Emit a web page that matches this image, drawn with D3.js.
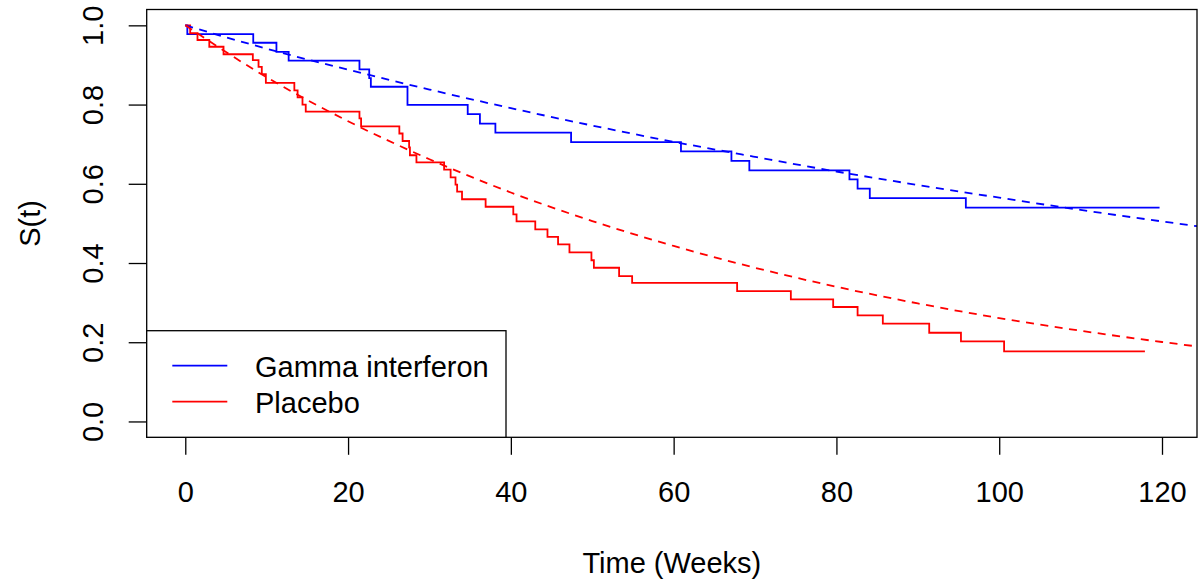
<!DOCTYPE html>
<html><head><meta charset="utf-8">
<script src="https://cdn.jsdelivr.net/npm/d3@7"></script>
<style>body{margin:0;background:#fff}svg{display:block}text{font-family:"Liberation Sans",Arial,sans-serif;fill:#000}</style>
</head><body>
<svg id="c" width="1202" height="582"></svg>
<script>
// Kaplan-Meier step data (time, survival after step)
const gammaTimes = [0, 0.25, 8.35, 11.2, 12.7, 21.4, 22.6, 22.8, 27.3, 34.7, 36.2, 38.1, 47.4, 60.9, 67.1, 69.3, 81.6, 82.6, 84.1, 95.9, 119.7];
const gammaSurv  = [1, 0.978, 0.956, 0.933, 0.911, 0.889, 0.867, 0.845, 0.799, 0.776, 0.752, 0.729, 0.705, 0.682, 0.658, 0.634, 0.611, 0.588, 0.564, 0.540, 0.540];
const placeboTimes = [0, 0.6, 1.5, 2.95, 4.7, 8.3, 9.0, 9.4, 9.9, 13.4, 13.8, 14.4, 14.8, 21.4, 21.6, 26.3, 26.7, 27.5, 27.6, 28.4, 31.8, 32.6, 33.2, 33.4, 34.0, 36.9, 40.3, 40.7, 43.0, 44.5, 45.8, 47.2, 49.9, 50.2, 53.3, 54.9, 67.8, 74.4, 79.6, 82.6, 85.7, 91.4, 95.3, 100.6, 117.9];
const placeboSurv  = [1, 0.980, 0.963, 0.946, 0.927, 0.912, 0.895, 0.877, 0.855, 0.836, 0.818, 0.800, 0.782, 0.765, 0.745, 0.727, 0.708, 0.692, 0.672, 0.654, 0.636, 0.616, 0.598, 0.580, 0.561, 0.542, 0.523, 0.505, 0.485, 0.466, 0.447, 0.427, 0.407, 0.388, 0.367, 0.350, 0.329, 0.308, 0.289, 0.268, 0.247, 0.224, 0.202, 0.177, 0.177];
// Fitted (parametric) curves
const fitTimes = [0, 10, 20, 30, 40, 50, 60, 70, 80, 90, 100, 110, 120, 124.3];
const gammaFit   = [1, 0.941, 0.888, 0.838, 0.791, 0.747, 0.706, 0.668, 0.631, 0.597, 0.565, 0.534, 0.505, 0.493];
const placeboFit = [1, 0.869, 0.758, 0.662, 0.578, 0.506, 0.443, 0.388, 0.340, 0.298, 0.261, 0.229, 0.2006, 0.1895];
const xTicks = [0, 20, 40, 60, 80, 100, 120];
const yTicks = [0, 0.2, 0.4, 0.6, 0.8, 1.0];
const legendLabels = ["Gamma interferon", "Placebo"];
const colors = ["#0000FF", "#FF0000"];

const svg = d3.select("#c");
const L = 146.7, R = 1197, T = 9.5, B = 437.3;
const x = d3.scaleLinear().domain([-4.74, 124.3]).range([L, R]);
const y = d3.scaleLinear().domain([-0.04, 1.04]).range([B, T]);
const FS = 29;

function pts(ts, ss){ return ts.map((t,i)=>[t, ss[i]]); }
const stepLine = d3.line().x(d=>x(d[0])).y(d=>y(d[1])).curve(d3.curveStepAfter);
const smoothLine = d3.line().x(d=>x(d[0])).y(d=>y(d[1])).curve(d3.curveMonotoneX);

const g = svg.append("g");
g.append("path").attr("d", stepLine(pts(gammaTimes, gammaSurv))).attr("fill","none").attr("stroke",colors[0]).attr("stroke-width",1.8);
g.append("path").attr("d", stepLine(pts(placeboTimes, placeboSurv))).attr("fill","none").attr("stroke",colors[1]).attr("stroke-width",1.8);
g.append("path").attr("d", smoothLine(pts(fitTimes, gammaFit))).attr("fill","none").attr("stroke",colors[0]).attr("stroke-width",1.8).attr("stroke-dasharray","8,6.5");
g.append("path").attr("d", smoothLine(pts(fitTimes, placeboFit))).attr("fill","none").attr("stroke",colors[1]).attr("stroke-width",1.8).attr("stroke-dasharray","8,6.5");

// clip overflow at right edge
svg.append("rect").attr("x",R).attr("y",0).attr("width",10).attr("height",582).attr("fill","#fff");

// X axis
const xa = svg.append("g").attr("transform",`translate(0,${B})`)
  .call(d3.axisBottom(x).tickValues(xTicks).tickSize(17.5).tickPadding(0).tickFormat(d3.format("d")));
xa.select(".domain").remove();
xa.selectAll(".tick line").attr("stroke","#000").attr("stroke-width",1.3);
xa.selectAll(".tick text").attr("font-size",FS).attr("dy",null).attr("y",65).attr("text-anchor","middle")
  .style("font-family",'"Liberation Sans",Arial,sans-serif');
// Y axis
const ya = svg.append("g").attr("transform",`translate(${L},0)`)
  .call(d3.axisLeft(y).tickValues(yTicks).tickSize(18).tickPadding(0).tickFormat(d3.format(".1f")));
ya.select(".domain").remove();
ya.selectAll(".tick line").attr("stroke","#000").attr("stroke-width",1.3);
ya.selectAll(".tick text").attr("x",null).attr("dy",null).attr("font-size",FS)
  .attr("text-anchor","middle").attr("transform",`translate(${103-L},0) rotate(-90)`)
  .style("font-family",'"Liberation Sans",Arial,sans-serif');

// Box
svg.append("rect").attr("x",L).attr("y",T).attr("width",R-L).attr("height",B-T).attr("fill","none").attr("stroke","#000").attr("stroke-width",1.3);

// Legend
const lg = svg.append("g");
lg.append("rect").attr("x",L).attr("y",330.7).attr("width",506-L).attr("height",B-330.7).attr("fill","#fff").attr("stroke","#000").attr("stroke-width",1.3);
legendLabels.forEach((lab,i)=>{
  const cy = 365.7 + i*36;
  lg.append("line").attr("x1",172.3).attr("x2",227.3).attr("y1",cy).attr("y2",cy).attr("stroke",colors[i]).attr("stroke-width",1.8);
  lg.append("text").attr("x",255).attr("y",cy+11).attr("font-size",FS).text(lab);
});

// Axis titles
svg.append("text").attr("x",(L+R)/2).attr("y",573).attr("text-anchor","middle").attr("font-size",FS).text("Time (Weeks)");
svg.append("text").attr("transform",`translate(40,${(T+B)/2}) rotate(-90)`).attr("text-anchor","middle").attr("font-size",FS).text("S(t)");
</script>
</body></html>
